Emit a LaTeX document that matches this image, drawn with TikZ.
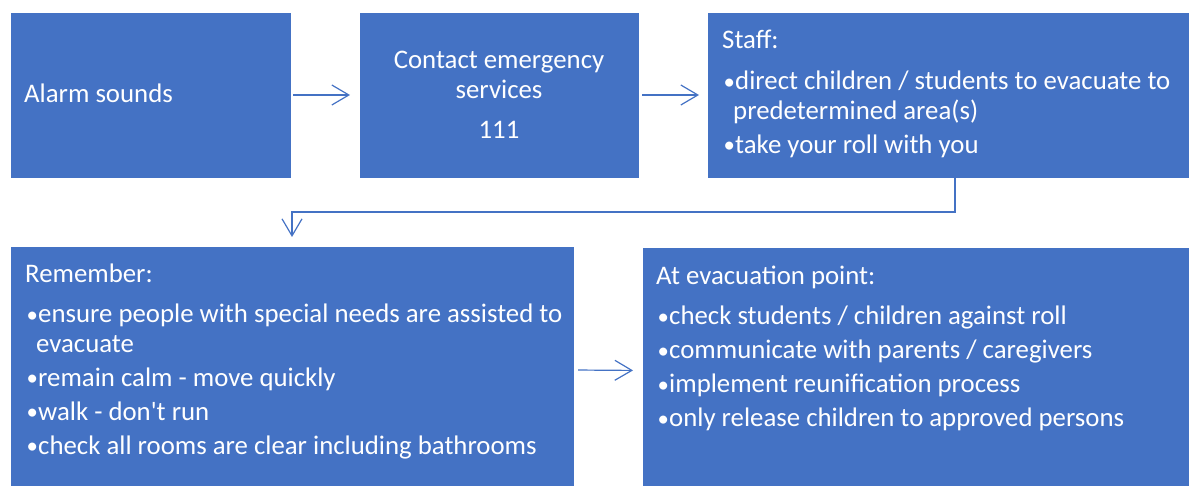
\documentclass[tikz,border=0pt]{standalone}
\usepackage{fontspec}
\setmainfont{Carlito}[Ligatures=TeXOff]
\usetikzlibrary{arrows.meta}
\definecolor{boxblue}{HTML}{4472C4}
\definecolor{linkblue}{HTML}{4472C4}
\newcommand\bl[1]{\makebox[13pt][l]{\hspace{1.5pt}\raisebox{0.6pt}{\scalebox{0.85}{\textbullet}}}#1}
\newcommand\cont{\hspace*{11pt}}
\begin{document}
\begin{tikzpicture}[x=1pt,y=-1pt,
  box/.style={draw=white, line width=0.5pt, fill=boxblue, inner sep=0pt, outer sep=0pt, anchor=north west},
  txt/.style={anchor=base west, inner sep=0pt, text=white, font=\fontsize{26.8}{29.3}\selectfont},
  link/.style={draw=linkblue, line width=1.2pt, -{Straight Barb[length=17pt,width=20pt,line width=1.2pt]}}
]
\useasboundingbox (0,0) rectangle (1191,486);
% boxes
\node[box, minimum width=281pt, minimum height=166pt] (b1) at (10,12) {};
\node[box, minimum width=280pt, minimum height=166pt] (b2) at (359,12) {};
\node[box, minimum width=482pt, minimum height=166pt] (b3) at (707,12) {};
\node[box, minimum width=564pt, minimum height=240pt] (b4) at (10,246) {};
\node[box, minimum width=547pt, minimum height=239pt] (b5) at (642,247) {};
% texts
\node[txt] (t1) at (24,103) {Alarm sounds};
\node[txt, anchor=base] (t2) at (499,69) {\parbox[t]{270pt}{\centering Contact emergency\\ services\\[11pt] 111}};
\node[txt] (t3) at (722,49) {\parbox[t]{460pt}{Staff:\\[11.5pt]
  \bl{direct children / students to evacuate to}\\
  \cont predetermined area(s)\\[4.7pt]
  \bl{take your roll with you}}};
\node[txt] (t4) at (25,283) {\parbox[t]{540pt}{Remember:\\[10.7pt]
  \bl{ensure people with special needs are assisted to}\\
  \cont evacuate\\[4.7pt]
  \bl{remain calm - move quickly}\\[4.7pt]
  \bl{walk - don't run}\\[4.7pt]
  \bl{check all rooms are clear including bathrooms}}};
\node[txt] (t5) at (656,284) {\parbox[t]{520pt}{At evacuation point:\\[11.5pt]
  \bl{check students / children against roll}\\[4.7pt]
  \bl{communicate with parents / caregivers}\\[4.7pt]
  \bl{implement reunification process}\\[4.7pt]
  \bl{only release children to approved persons}}};
% connectors
\draw[link, shorten <=2pt, shorten >=9pt] (b1) -- (b2);
\draw[link, shorten <=3pt, shorten >=8pt] (b2) -- (b3);
\draw[link, shorten >=9pt] ([xshift=7pt]b3.south) -- ++(0,34) -| (b4.north);
\draw[link, shorten <=4pt, shorten >=9pt] ([yshift=-4pt]b4.east) -- ([yshift=-4pt]b5.west);
\end{tikzpicture}
\end{document}
